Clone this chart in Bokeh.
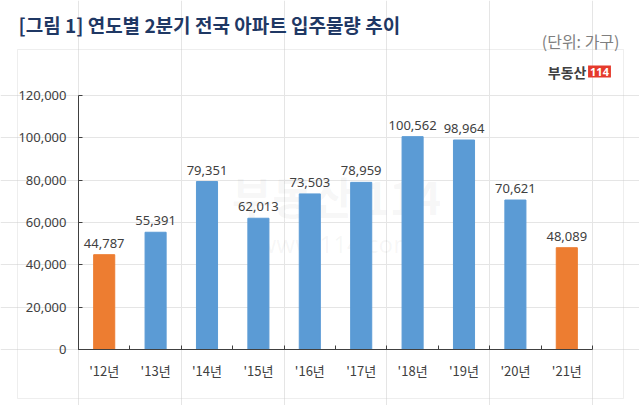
from bokeh.plotting import figure
from bokeh.models import (Range1d, FixedTicker, NumeralTickFormatter, Label,
                          BoxAnnotation, ColumnDataSource, LinearAxis)
from bokeh.core.properties import value
from bokeh.embed import file_html
from bokeh.resources import INLINE

# ---- data ----
years = ["'12년", "'13년", "'14년", "'15년", "'16년", "'17년", "'18년", "'19년", "'20년", "'21년"]
supply = [44787, 55391, 79351, 62013, 73503, 78959, 100562, 98964, 70621, 48089]
highlight = [True, False, False, False, False, False, False, False, False, True]
y_ticks = [0, 20000, 40000, 60000, 80000, 100000, 120000]
title_text = "[그림 1] 연도별 2분기 전국 아파트 입주물량 추이"
unit_text = "(단위: 가구)"

BLUE = "#5B9BD5"
ORANGE = "#ED7D31"
KR = "Noto Sans CJK KR"
AX = "#404040"

W, H = 639, 405
# plot-area placement in pixels (left, right, top, bottom)
PL, PR, PT, PB = 78, 592, 95, 349
n = len(years)
ymax = y_ticks[-1]
xs_per_px = n / (PR - PL)
ys_per_px = ymax / (PB - PT)
x_range = Range1d(-PL * xs_per_px, n + (W - PR) * xs_per_px)
y_range = Range1d(-(H - PB) * ys_per_px, ymax + PT * ys_per_px)

xs = [i + 0.5 for i in range(n)]
src = ColumnDataSource(dict(
    x=xs,
    top=supply,
    color=[ORANGE if h else BLUE for h in highlight],
    label=[f"{v:,}" for v in supply],
))

p = figure(width=W, height=H, x_range=x_range, y_range=y_range,
           output_backend="svg", toolbar_location=None,
           x_axis_location=None, y_axis_location=None, min_border=0)
p.outline_line_color = None
p.background_fill_color = "white"
p.border_fill_color = "white"

# watermark
p.add_layout(Label(x=336, y=H - 195, x_units="screen", y_units="screen", text="부동산 114",
                   text_font=KR, text_font_style="bold", text_font_size="44px",
                   text_color="#808080", text_alpha=0.07, text_align="center",
                   text_baseline="middle", level="underlay"))
p.add_layout(Label(x=336, y=H - 243, x_units="screen", y_units="screen", text="www.114.com",
                   text_font="Noto Sans", text_font_size="24px",
                   text_color="#808080", text_alpha=0.07, text_align="center",
                   text_baseline="middle", level="underlay"))

p.vbar(x="x", top="top", width=0.41, color="color", source=src)
p.text(x="x", y="top", text="label", source=src, text_align="center",
       text_baseline="bottom", y_offset=-7, text_font=value("Noto Sans"),
       text_font_size="13px", text_color=AX)

# y axis (fixed at x=0)
yax = LinearAxis(fixed_location=0, bounds=(0, ymax),
                 ticker=FixedTicker(ticks=y_ticks),
                 formatter=NumeralTickFormatter(format="0,0"))
yax.major_tick_in = 4
yax.major_tick_out = 0
yax.minor_tick_line_color = None
yax.major_tick_line_color = AX
yax.axis_line_color = AX
yax.major_label_standoff = 12
yax.major_label_text_font = "Noto Sans"
yax.major_label_text_font_size = "13px"
yax.major_label_text_color = AX
p.add_layout(yax, "left")

# x axis line + boundary ticks (fixed at y=0)
bounds_ticks = list(range(n + 1))
xax = LinearAxis(fixed_location=0, bounds=(0, n),
                 ticker=FixedTicker(ticks=bounds_ticks))
xax.major_label_overrides = {t: "" for t in bounds_ticks}
xax.major_tick_in = 4
xax.major_tick_out = 0
xax.minor_tick_line_color = None
xax.major_tick_line_color = AX
xax.axis_line_color = AX
p.add_layout(xax, "below")

# x category labels
xlab = LinearAxis(fixed_location=0, ticker=FixedTicker(ticks=xs))
xlab.major_label_overrides = {x: t for x, t in zip(xs, years)}
xlab.axis_line_color = None
xlab.major_tick_line_color = None
xlab.minor_tick_line_color = None
xlab.major_label_standoff = 5
xlab.major_label_text_font = KR
xlab.major_label_text_font_size = "13px"
xlab.major_label_text_color = AX
p.add_layout(xlab, "below")

# frame box
p.add_layout(BoxAnnotation(left=17, right=623, bottom=H - 398, top=H - 49,
                           left_units="screen", right_units="screen",
                           bottom_units="screen", top_units="screen",
                           fill_alpha=0, line_color="#c8c8c8", line_width=1))

# title & unit
p.add_layout(Label(x=18, y=H - 24, x_units="screen", y_units="screen", text=title_text,
                   text_font=KR, text_font_style="bold", text_font_size="19px",
                   text_color="#1F3864", text_align="left", text_baseline="middle"))
p.add_layout(Label(x=619, y=H - 40, x_units="screen", y_units="screen", text=unit_text,
                   text_font=KR, text_font_size="16px",
                   text_color="#7f7f7f", text_align="right", text_baseline="middle"))

# logo
p.add_layout(Label(x=586, y=H - 71, x_units="screen", y_units="screen", text="부동산",
                   text_font=KR, text_font_style="bold", text_font_size="14px",
                   text_color="#404040", text_align="right", text_baseline="middle"))
p.add_layout(Label(x=599, y=H - 71, x_units="screen", y_units="screen", text="114",
                   text_font="Noto Sans", text_font_style="bold", text_font_size="11px",
                   text_color="white", text_align="center", text_baseline="middle",
                   background_fill_color="#E53A2C", padding=2))

open("out.html", "w").write(file_html(p, INLINE))
